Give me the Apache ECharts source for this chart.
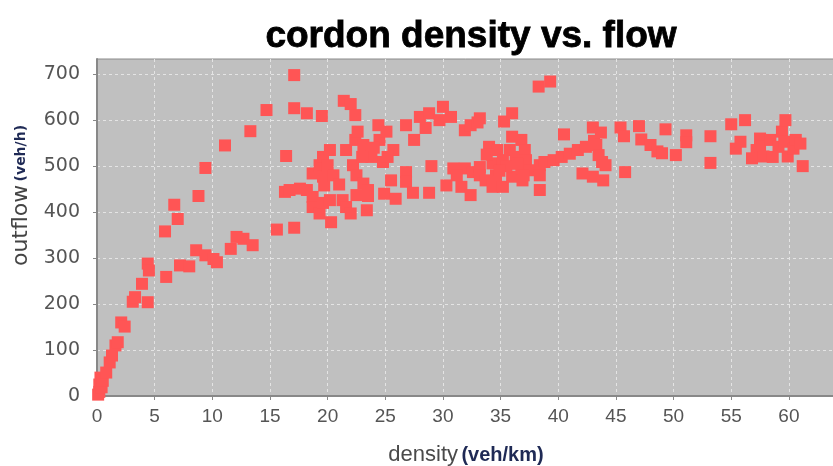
<!DOCTYPE html>
<html>
<head>
<meta charset="utf-8">
<script src="https://cdn.jsdelivr.net/npm/echarts@6/dist/echarts.min.js"></script>
<style>
  html, body { margin: 0; padding: 0; background: #fff; }
  #chart { width: 833px; height: 466px; }
</style>
</head>
<body>
<div id="chart"></div>
<script>
// density (veh/km) and outflow (veh/h)
var density = [
  0.1, 0.2, 0.2, 0.4, 0.3, 0.5, 0.8, 1.1, 1.3, 1.6, 1.8, 2.1, 2.4, 3.1, 3.3, 4.4, 3.9, 4.4, 4.5,
  5.9, 6.0, 6.7, 7.0, 7.2, 8.0, 8.6, 8.8, 9.4, 9.4, 10.1, 10.4, 11.1, 11.6, 12.1, 12.7, 13.3, 13.5,
  14.7, 15.6, 16.3, 16.4, 17.1, 17.1, 17.1, 16.7, 17.6, 18.2, 18.2, 18.7, 18.7, 18.7, 19.3, 19.3,
  19.5, 19.6, 19.6, 19.6, 19.7, 20.0, 20.2, 20.2, 20.3, 20.5, 21.3, 21.4, 21.6, 21.6, 22.0, 22.0,
  22.2, 22.4, 22.4, 22.5, 22.5, 22.6, 23.1, 23.1, 23.4, 23.5, 23.5, 24.4, 24.5, 24.8, 24.9, 25.1,
  25.5, 25.7, 25.9, 26.8, 26.8, 26.8, 27.4, 27.5, 28.0, 28.5, 28.8, 28.8, 29.7, 30.0, 30.3, 30.7,
  30.9, 31.6, 31.9, 31.9, 32.4, 32.4, 32.6, 33.0, 33.2, 33.2, 33.2, 33.7, 34.0, 34.3, 34.3, 34.6,
  34.7, 35.2, 35.2, 35.3, 35.8, 36.0, 36.0, 36.0, 36.3, 36.8, 36.8, 36.9, 37.1, 37.2, 37.5, 38.3,
  38.4, 38.4, 38.4, 38.8, 39.3, 39.6, 40.3, 40.5, 41.0, 41.7, 42.1, 42.4, 43.0, 43.0, 43.1, 43.3,
  43.5, 43.7, 43.8, 43.9, 44.1, 45.4, 45.7, 45.8, 47.0, 47.2, 48.0, 48.6, 49.0, 49.3, 50.2, 51.1,
  51.1, 53.2, 53.2, 55.0, 55.4, 55.8, 56.2, 56.8, 57.2, 57.5, 57.5, 57.8, 58.4, 58.6, 59.1, 59.4,
  59.6, 59.7, 59.9, 60.4, 60.6, 61.0, 61.2,
  23.8, 24.0, 25.2, 23.0, 21.0, 35.5, 34.9, 36.5, 33.8, 37.0, 29.0, 31.2
];
var outflow = [
  3, 9, 25, 19, 40, 33, 51, 73, 88, 110, 117, 160, 151, 205, 215, 204, 244, 288, 273,
  358, 259, 416, 385, 284, 282, 317, 435, 306, 496, 298, 291, 545, 320, 346, 342, 576, 328,
  622, 362, 444, 522, 698, 626, 366, 448, 451, 448, 615, 433, 411, 484, 397, 502,
  609, 420, 520, 477, 458, 502, 426, 535, 378, 480, 426, 642, 411, 535, 397, 635,
  502, 557, 611, 437, 480, 575, 462, 546, 404, 448, 435, 589, 557, 509, 440, 575,
  469, 535, 429, 487, 466, 589, 442, 557, 607, 583, 615, 442, 600, 629, 458, 607,
  495, 455, 495, 578, 589, 437, 487, 595, 604, 498, 480, 469, 542, 506, 455, 480,
  535, 513, 455, 597, 535, 615, 564, 477, 520, 557, 495, 469, 535, 513, 491, 673,
  502, 480, 448, 509, 684, 513, 520, 569, 527, 535, 484, 542, 584, 477, 555, 546,
  524, 573, 509, 469, 502, 584, 565, 487, 587, 558, 546, 532, 528, 580, 524, 567,
  552, 565, 507, 591, 538, 553, 600, 517, 535, 560, 542, 521, 557, 520, 542, 575,
  553, 600, 521, 538, 557, 549, 500,
  520, 540, 520, 520, 460, 500, 490, 505, 525, 480, 500, 480
];
var xTicks = [0, 5, 10, 15, 20, 25, 30, 35, 40, 45, 50, 55, 60];
var yTicks = [0, 100, 200, 300, 400, 500, 600, 700];

var points = density.map(function (d, i) { return [d, outflow[i]]; });

var chart = echarts.init(document.getElementById('chart'));
chart.setOption({
  animation: false,
  backgroundColor: '#ffffff',
  title: {
    text: 'cordon density vs. flow',
    left: 466,
    textAlign: 'center',
    top: 13,
    textStyle: {
      fontFamily: '"Liberation Sans", sans-serif',
      fontWeight: 'bold',
      fontSize: 37,
      color: '#000',
      textBorderColor: '#000',
      textBorderWidth: 0.8
    }
  },
  grid: {
    left: 97, right: -2, top: 59, bottom: 70,
    outerBoundsMode: 'none',
    containLabel: false,
    show: true,
    backgroundColor: '#c0c0c0',
    borderColor: '#8a8a8a',
    borderWidth: 1
  },
  xAxis: {
    type: 'value',
    min: 0, max: 64,
    offset: 7,
    name: '{m|density} {u|(veh/km)}',
    nameLocation: 'middle',
    nameGap: 41,
    nameTextStyle: {
      rich: {
        m: { fontFamily: '"Liberation Sans", sans-serif', fontSize: 22, color: '#4a4a4a' },
        u: { fontFamily: '"Liberation Sans", sans-serif', fontSize: 20, fontWeight: 'bold', color: '#1f2a55' }
      }
    },
    axisLine: { show: true, lineStyle: { color: '#888', width: 2 } },
    axisTick: { show: true, length: 4, customValues: xTicks, lineStyle: { color: '#888' } },
    axisLabel: {
      customValues: xTicks,
      margin: 4,
      color: '#555',
      fontFamily: '"Liberation Sans", sans-serif',
      fontSize: 19
    },
    splitLine: { show: true, lineStyle: { color: '#e4e4e4', type: [3, 3], width: 1 } }
  },
  yAxis: {
    type: 'value',
    min: 0, max: 733,
    offset: 7,
    name: '{m|outflow} {u|(veh/h)}',
    nameLocation: 'middle',
    nameGap: 58,
    nameTextStyle: {
      padding: [0, 0, 0, 64],
      rich: {
        m: { fontFamily: '"DejaVu Sans", sans-serif', fontSize: 22, color: '#444' },
        u: { fontFamily: '"DejaVu Sans", sans-serif', fontSize: 14, fontWeight: 'bold', color: '#1f2a55' }
      }
    },
    axisLine: { show: true, lineStyle: { color: '#888', width: 2 } },
    axisTick: { show: true, length: 4, customValues: yTicks, lineStyle: { color: '#888' } },
    axisLabel: {
      customValues: yTicks,
      margin: 10,
      color: '#555',
      fontFamily: '"DejaVu Sans", sans-serif',
      fontSize: 19
    },
    splitLine: { show: true, lineStyle: { color: '#e4e4e4', type: [3, 3], width: 1 } }
  },
  series: [{
    type: 'scatter',
    data: points,
    symbol: 'rect',
    symbolSize: 12,
    itemStyle: { color: '#ff5555', opacity: 1 }
  }]
});
</script>
</body>
</html>
